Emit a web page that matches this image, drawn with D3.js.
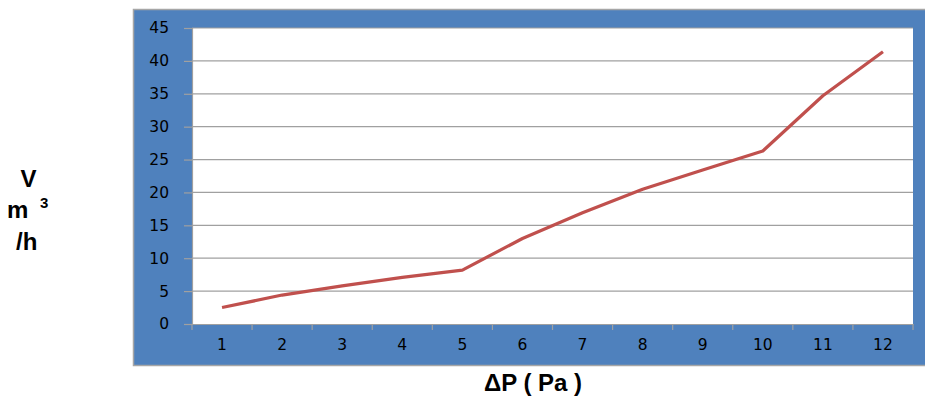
<!DOCTYPE html>
<html>
<head>
<meta charset="utf-8">
<script src="https://cdn.jsdelivr.net/npm/d3@7"></script>
<style>
  html, body { margin: 0; padding: 0; background: #fff; }
  svg { display: block; }
</style>
</head>
<body>
<svg id="chart" width="925" height="399"></svg>
<script>
const categories = ["1","2","3","4","5","6","7","8","9","10","11","12"];
const values = [2.5, 4.4, 5.8, 7.1, 8.2, 13.0, 16.9, 20.5, 23.4, 26.3, 34.7, 41.4];
const yTicks = [0, 5, 10, 15, 20, 25, 30, 35, 40, 45];

const svg = d3.select("#chart");

// outer blue box
svg.append("rect")
  .attr("x", 133.5).attr("y", 9.5)
  .attr("width", 795).attr("height", 356)
  .attr("fill", "#4F81BD")
  .attr("stroke", "#A6A6A6").attr("stroke-width", 1.5);

const plot = { left: 192, top: 28, right: 913, bottom: 324 };

const x = d3.scaleBand().domain(categories).range([plot.left, plot.right]);
const y = d3.scaleLinear().domain([0, 45]).range([plot.bottom, plot.top]);

// plot area
svg.append("rect")
  .attr("x", plot.left).attr("y", plot.top)
  .attr("width", plot.right - plot.left).attr("height", plot.bottom - plot.top)
  .attr("fill", "#fff");

// gridlines
svg.append("g")
  .selectAll("line").data(yTicks.filter(d => d > 0)).join("line")
  .attr("x1", plot.left).attr("x2", plot.right)
  .attr("y1", d => y(d)).attr("y2", d => y(d))
  .attr("stroke", "#A0A0A0").attr("stroke-width", 1.2);

const tickFont = "DejaVu Sans, Verdana, sans-serif";

// y axis
const yAxis = svg.append("g")
  .attr("transform", `translate(${plot.left},0)`)
  .call(d3.axisLeft(y).tickValues(yTicks).tickSize(8).tickPadding(15));
yAxis.select(".domain").attr("stroke", "#A0A0A0").attr("stroke-width", 1.2);
yAxis.selectAll(".tick line").attr("stroke", "#A0A0A0").attr("stroke-width", 1.2);
yAxis.selectAll("text")
  .attr("font-family", tickFont)
  .attr("font-size", "15.5px").attr("fill", "#000");

// x axis
const xAxis = svg.append("g")
  .attr("transform", `translate(0,${plot.bottom})`)
  .call(d3.axisBottom(x).tickSize(0).tickPadding(15));
xAxis.select(".domain").attr("stroke", "#A0A0A0").attr("stroke-width", 1.2);
xAxis.selectAll("text")
  .attr("font-family", tickFont)
  .attr("font-size", "15.5px").attr("fill", "#000");

// x tick marks at band edges
const edges = categories.map(c => x(c)).concat([x(categories[categories.length - 1]) + x.bandwidth()]);
svg.append("g").selectAll("line").data(edges).join("line")
  .attr("x1", d => d).attr("x2", d => d)
  .attr("y1", plot.bottom).attr("y2", plot.bottom + 6)
  .attr("stroke", "#A0A0A0").attr("stroke-width", 1.2);

// data line
const line = d3.line()
  .x((d, i) => x(categories[i]) + x.bandwidth() / 2)
  .y(d => y(d));
svg.append("path")
  .datum(values)
  .attr("d", line)
  .attr("fill", "none")
  .attr("stroke", "#C0504D")
  .attr("stroke-width", 3.2)
  .attr("stroke-linejoin", "round");

// y title
const tf = "Liberation Sans, Arial, sans-serif";
svg.append("text").attr("x", 28.5).attr("y", 187).attr("text-anchor", "middle")
  .attr("font-family", tf).attr("font-weight", "bold").attr("font-size", "24px").text("V");
svg.append("text").attr("x", 7).attr("y", 217.5)
  .attr("font-family", tf).attr("font-weight", "bold").attr("font-size", "24px").text("m");
svg.append("text").attr("x", 40).attr("y", 208)
  .attr("font-family", tf).attr("font-weight", "bold").attr("font-size", "15px").text("3");
svg.append("text").attr("x", 16).attr("y", 249.5)
  .attr("font-family", tf).attr("font-weight", "bold").attr("font-size", "24px").text("/h");

// x title
svg.append("text").attr("x", 533).attr("y", 391).attr("text-anchor", "middle")
  .attr("font-family", tf).attr("font-weight", "bold").attr("font-size", "24px")
  .text("ΔP ( Pa )");
</script>
</body>
</html>
